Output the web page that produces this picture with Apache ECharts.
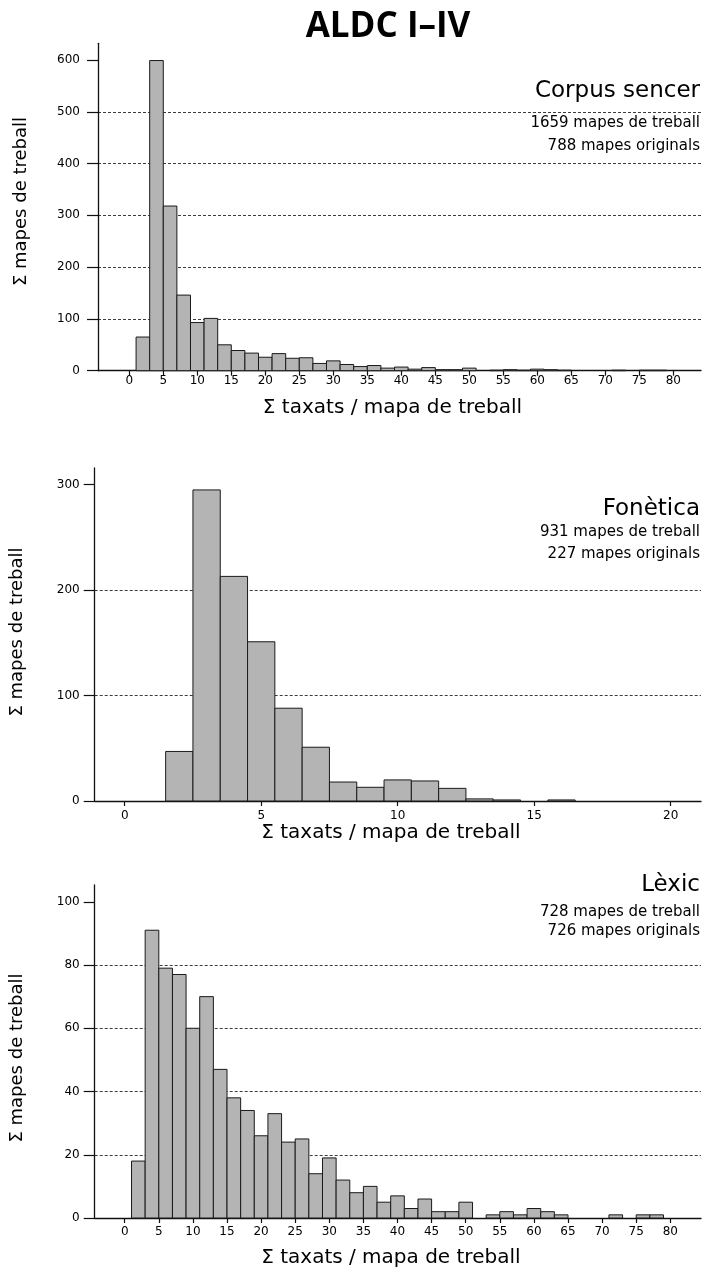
<!DOCTYPE html>
<html>
<head>
<meta charset="utf-8">
<script src="https://cdn.jsdelivr.net/npm/echarts@6/dist/echarts.min.js"></script>
<style>
  html, body { margin: 0; padding: 0; background: #fff; }
  #chart { width: 706px; height: 1272px; }
</style>
</head>
<body>
<div id="chart"></div>
<script>
// ---------- data ----------
const titleText = 'ALDC I–IV';
const yAxisTitle = 'Σ mapes de treball';
const xAxisTitle = 'Σ taxats / mapa de treball';

// Corpus sencer: bins of two consecutive values, lower edges
const corpusBinLow = [1,3,5,7,9,11,13,15,17,19,21,23,25,27,29,31,33,35,37,39,41,43,45,47,49,51,53,55,57,59,61,63,65,67,69,71,73,75,77];
const corpusCounts = [65,599,318,146,93,101,50,39,34,26,33,24,25,14,19,12,8,10,5,7,3,6,2,2,5,0,1,2,1,3,2,1,0,0,0,1,0,1,1];

// Fonètica: one value per bin
const foneticaValues = [2,3,4,5,6,7,8,9,10,11,12,13,14,15,16];
const foneticaCounts = [47,295,213,151,88,51,18,13,20,19,12,2,1,0,1];

// Lèxic: same bins as corpus
const lexicBinLow = [1,3,5,7,9,11,13,15,17,19,21,23,25,27,29,31,33,35,37,39,41,43,45,47,49,51,53,55,57,59,61,63,65,67,69,71,73,75,77];
const lexicCounts = [18,91,79,77,60,70,47,38,34,26,33,24,25,14,19,12,8,10,5,7,3,6,2,2,5,0,1,2,1,3,2,1,0,0,0,1,0,1,1];

// tick labels
const xTicksWide = [0,5,10,15,20,25,30,35,40,45,50,55,60,65,70,75,80];
const xTicksFon = [0,5,10,15,20];
const yTicksCorpus = [0,100,200,300,400,500,600];
const yTicksFon = [0,100,200,300];
const yTicksLex = [0,20,40,60,80,100];

// annotation texts
const panels = [
  { name: 'Corpus sencer', lines: ['1659 mapes de treball', '788 mapes originals'] },
  { name: 'Fonètica', lines: ['931 mapes de treball', '227 mapes originals'] },
  { name: 'Lèxic', lines: ['728 mapes de treball', '726 mapes originals'] }
];

// ---------- build ----------
const FONT = 'DejaVu Sans';
const BIN_WIDE = 2;   // width of corpus / lexic bins
const BIN_FON = 1;    // width of fonetica bins

const corpusData = corpusBinLow.map((lo, i) => [lo, lo + BIN_WIDE, corpusCounts[i]]);
const lexicData = lexicBinLow.map((lo, i) => [lo, lo + BIN_WIDE, lexicCounts[i]]);
const fonData = foneticaValues.map((v, i) => [v - BIN_FON / 2, v + BIN_FON / 2, foneticaCounts[i]]);

function renderBin(params, api) {
  const lo = api.value(0), hi = api.value(1), n = api.value(2);
  if (!n) return null;
  const p0 = api.coord([lo, n]);
  const p1 = api.coord([hi, 0]);
  return {
    type: 'rect',
    shape: { x: p0[0], y: p0[1], width: p1[0] - p0[0], height: p1[1] - p0[1] },
    style: { fill: '#b4b4b4', stroke: '#1a1a1a', lineWidth: 1 }
  };
}

function xAxisCfg(idx, min, max, ticks, labelMargin, nameGap) {
  return {
    type: 'value', gridIndex: idx, min: min, max: max,
    name: xAxisTitle, nameLocation: 'middle', nameGap: nameGap,
    nameTextStyle: { fontFamily: FONT, fontSize: 20, color: '#000', padding: [0, 14, 0, 0] },
    axisLine: { show: true, onZero: false, lineStyle: { color: '#111', width: 1.3 } },
    axisTick: { show: true, length: 5, customValues: ticks, lineStyle: { color: '#111', width: 1.2 } },
    axisLabel: { customValues: ticks, margin: labelMargin, fontFamily: FONT, fontSize: 12, color: '#000' },
    splitLine: { show: false }
  };
}

function yAxisCfg(idx, max, interval, ticks, labelMargin, namePad) {
  return {
    type: 'value', gridIndex: idx, min: 0, max: max, interval: interval,
    name: yAxisTitle, nameLocation: 'middle', nameGap: 68,
    nameTextStyle: { fontFamily: FONT, fontSize: 18, color: '#000', padding: namePad },
    axisLine: { show: true, onZero: false, lineStyle: { color: '#111', width: 1.3 } },
    axisTick: { show: true, length: 11, customValues: ticks, lineStyle: { color: '#111', width: 1.2 } },
    axisLabel: { customValues: ticks, margin: labelMargin, fontFamily: FONT, fontSize: 12, color: '#000' },
    splitLine: { show: true, showMinLine: false, showMaxLine: false,
      lineStyle: { color: '#3c3c3c', width: 1, type: [3, 2] } }
  };
}

function annot(panel, x, y0, y1, y2, bigSize, smallSize) {
  return [
    { type: 'text', x: x, y: y0, style: { text: panel.name, fontFamily: FONT, fontSize: bigSize, fill: '#000', align: 'right', verticalAlign: 'middle' } },
    { type: 'text', x: x, y: y1, style: { text: panel.lines[0], fontFamily: FONT, fontSize: smallSize, fill: '#000', align: 'right', verticalAlign: 'middle' } },
    { type: 'text', x: x, y: y2, style: { text: panel.lines[1], fontFamily: FONT, fontSize: smallSize, fill: '#000', align: 'right', verticalAlign: 'middle' } }
  ];
}

const chart = echarts.init(document.getElementById('chart'), null, { renderer: 'canvas', width: 706, height: 1272 });

const option = {
  backgroundColor: '#ffffff',
  animation: false,
  grid: [
    { left: 98, top: 43.3, width: 603, height: 327.4 },
    { left: 94.7, top: 468, width: 606.3, height: 333 },
    { left: 94.7, top: 885, width: 606.3, height: 333 }
  ],
  xAxis: [
    xAxisCfg(0, -4.6, 84.07, xTicksWide, 4, 27),
    xAxisCfg(1, -1.099, 21.11, xTicksFon, 9, 22),
    xAxisCfg(2, -4.4, 84.5, xTicksWide, 8, 30)
  ],
  yAxis: [
    yAxisCfg(0, 632.3, 100, yTicksCorpus, 18, [0, 0, 0, 11]),
    yAxisCfg(1, 315.8, 100, yTicksFon, 15, [0, 0, 0, 5]),
    yAxisCfg(2, 105.3, 20, yTicksLex, 15, [0, 13, 0, 0])
  ],
  series: [
    { type: 'custom', name: panels[0].name, xAxisIndex: 0, yAxisIndex: 0, renderItem: renderBin, encode: { x: [0, 1], y: 2 }, data: corpusData },
    { type: 'custom', name: panels[1].name, xAxisIndex: 1, yAxisIndex: 1, renderItem: renderBin, encode: { x: [0, 1], y: 2 }, data: fonData },
    { type: 'custom', name: panels[2].name, xAxisIndex: 2, yAxisIndex: 2, renderItem: renderBin, encode: { x: [0, 1], y: 2 }, data: lexicData }
  ],
  graphic: [
    { type: 'text', x: 388, y: 27, style: { text: titleText, fontFamily: 'Open Sans', fontWeight: 'bold', fontSize: 35, fill: '#000', align: 'center', verticalAlign: 'middle' } },
    ...annot(panels[0], 700, 91, 123, 146, 23, 15),
    ...annot(panels[1], 700, 509, 532, 554, 23, 15),
    ...annot(panels[2], 700, 885, 912, 931, 23, 15)
  ]
};
chart.setOption(option);
</script>
</body>
</html>
